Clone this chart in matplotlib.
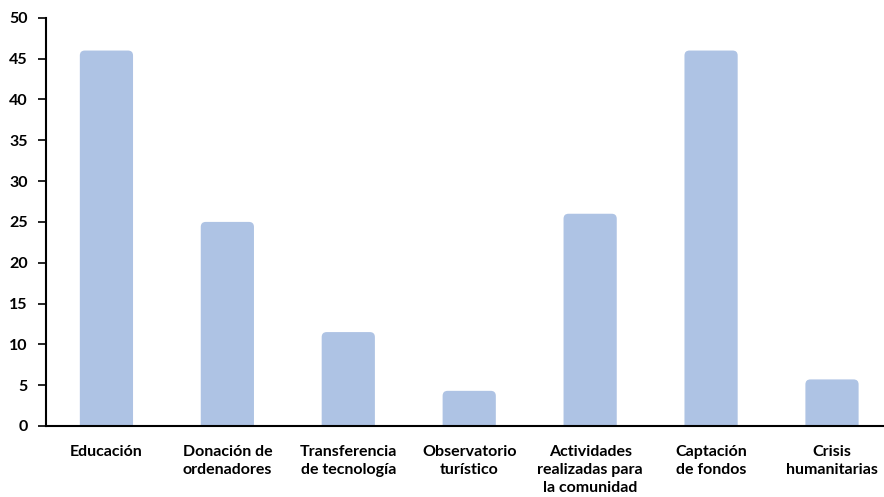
import numpy as np
import matplotlib
matplotlib.use("Agg")
import matplotlib.pyplot as plt
import matplotlib.patches as mpatches

categories = ["Educación", "Donación de\nordenadores", "Transferencia\nde tecnología",
              "Observatorio\nturístico", "Actividades\nrealizadas para\nla comunidad",
              "Captación\nde fondos", "Crisis\nhumanitarias"]
values = [46, 25, 11.5, 4.3, 26, 46, 5.7]
yticks = [0, 5, 10, 15, 20, 25, 30, 35, 40, 45, 50]

BAR_COLOR = "#AEC3E4"

plt.rcParams["font.family"] = ["Lato", "DejaVu Sans"]

fig = plt.figure(figsize=(8.84, 4.97), dpi=100)
ax = fig.add_axes([0.052, 0.143, 0.948, 0.821])

x = np.arange(len(categories))
bars = ax.bar(x, values, width=0.44, color=BAR_COLOR)

ax.set_xlim(-0.5, 6.43)
ax.set_ylim(0, 50)

# swap plain bars for ones with rounded tops
px_x = 0.948 * 884 / (6.43 + 0.5)
px_y = 0.821 * 497 / 50
r = 5.0
for b in bars:
    bx, bw, bh = b.get_x(), b.get_width(), b.get_height()
    b.remove()
    ext = 1.0
    ax.add_patch(mpatches.FancyBboxPatch(
        (bx, -ext), bw, bh + ext,
        boxstyle=f"round,pad=0,rounding_size={r / px_x}",
        mutation_aspect=px_x / px_y,
        facecolor=BAR_COLOR, edgecolor="none", zorder=2,
    ))

ax.set_xticks(x)
ax.set_xticklabels(categories, fontsize=11.5, fontweight="bold", linespacing=1.35)
ax.set_yticks(yticks)
ax.set_yticklabels([str(t) for t in yticks], fontsize=11.5, fontweight="bold")

ax.tick_params(axis="x", length=0, pad=14)
ax.tick_params(axis="y", length=6, width=1.2, direction="out", pad=7)

for s in ["top", "right"]:
    ax.spines[s].set_visible(False)
for s in ["left", "bottom"]:
    ax.spines[s].set_linewidth(1.5)
    ax.spines[s].set_color("black")
    ax.spines[s].set_zorder(5)

fig.savefig("out.png", dpi=100)
